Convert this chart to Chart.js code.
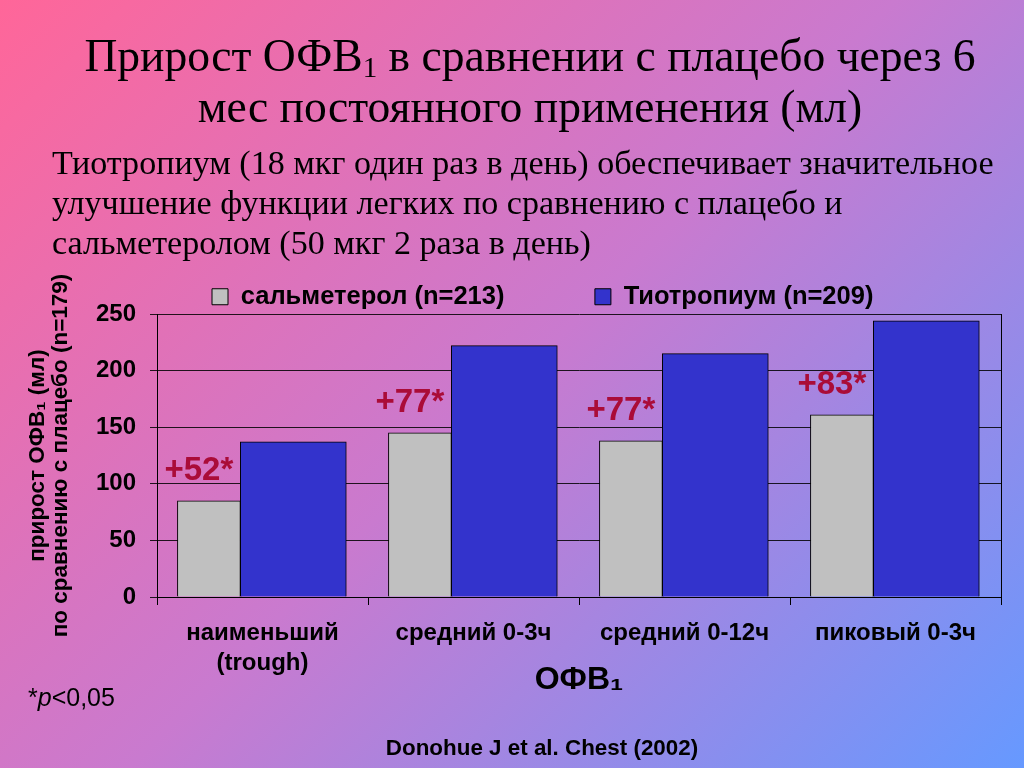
<!DOCTYPE html>
<html><head><meta charset="utf-8">
<script src="https://cdn.jsdelivr.net/npm/chart.js@4.4.0/dist/chart.umd.min.js"></script>
<style>
html,body{margin:0;padding:0;width:1024px;height:768px;overflow:hidden;}
body{background:linear-gradient(135deg,#ff6699 0%,#c97acf 50%,#6699ff 100%);position:relative;}
#c{position:absolute;left:0;top:0;}
.t{position:absolute;color:#000;white-space:nowrap;}
#title{left:0;width:1060px;top:30px;text-align:center;font-family:"Liberation Serif",serif;font-size:45.6px;line-height:51px;}
#title sub{font-size:29px;vertical-align:-6px;line-height:0;}
#sub{left:52px;top:143px;font-family:"Liberation Serif",serif;font-size:34.1px;line-height:40px;}
#pnote{left:28px;top:683px;font-family:"Liberation Sans",Arial,sans-serif;font-size:25px;line-height:28px;}
#src{left:0;width:1084px;top:735px;text-align:center;font-family:"Liberation Sans",Arial,sans-serif;font-weight:bold;font-size:22.4px;line-height:26px;}
</style></head>
<body>
<canvas id="c" width="1024" height="768" style="width:1024px;height:768px"></canvas>
<div class="t" id="title">Прирост ОФВ<sub>1</sub> в сравнении с плацебо через 6<br>мес постоянного применения (мл)</div>
<div class="t" id="sub">Тиотропиум (18 мкг один раз в день) обеспечивает значительное<br>улучшение функции легких по сравнению с плацебо и<br>сальметеролом (50 мкг 2 раза в день)</div>
<div class="t" id="pnote">*<i>p</i>&lt;0,05</div>
<div class="t" id="src">Donohue J et al. Chest (2002)</div>
<script>
const categories = [["наименьший", "(trough)"], "средний 0-3ч", "средний 0-12ч", "пиковый 0-3ч"];
const seriesNames = ["сальметерол (n=213)", "Тиотропиум (n=209)"];
const salmeterol = [85, 145, 138, 161];
const tiotropium = [137, 222, 215, 244];
const diffLabels = ["+52*", "+77*", "+77*", "+83*"];
const yTicks = [0, 50, 100, 150, 200, 250];
const yTitle = ["прирост ОФВ₁ (мл)", "по сравнению с плацебо (n=179)"];
const xTitle = "ОФВ₁";

const SANS = '"Liberation Sans", Arial, sans-serif';
const GRAY_POS = 0.246, BLUE_POS = 0.646;

const diffPlugin = {
  id: 'diffLabels',
  afterDatasetsDraw(chart) {
    const meta = chart.getDatasetMeta(0);
    const ctx = chart.ctx;
    ctx.save();
    ctx.font = 'bold 33px ' + SANS;
    ctx.fillStyle = '#aa0c38';
    ctx.textAlign = 'center';
    ctx.textBaseline = 'alphabetic';
    meta.data.forEach((el, i) => {
      ctx.fillText(diffLabels[i], el.x - 10, el.y - 21);
    });
    ctx.restore();
  }
};

new Chart(document.getElementById('c'), {
  type: 'bar',
  data: {
    labels: categories,
    datasets: [
      { label: seriesNames[0], xAxisID: 'xb', data: salmeterol.map((v, i) => ({x: i + GRAY_POS, y: v})),
        backgroundColor: '#c0c0c0', borderColor: '#000', borderWidth: 1, barThickness: 63, grouped: false },
      { label: seriesNames[1], xAxisID: 'xb', data: tiotropium.map((v, i) => ({x: i + BLUE_POS, y: v})),
        backgroundColor: '#3333cc', borderColor: '#000', borderWidth: 1, barThickness: 106, grouped: false }
    ]
  },
  options: {
    responsive: false,
    devicePixelRatio: 1,
    animation: false,
    layout: { padding: { left: 27, top: 229, right: 0, bottom: 0 } },
    plugins: {
      legend: {
        position: 'top', fullSize: false, align: 'start', maxHeight: 85,
        labels: {
          font: { family: SANS, size: 25.5, weight: 'bold' }, color: '#000',
          boxWidth: 16, boxHeight: 16, padding: 55,
          generateLabels: (chart) => {
            const items = Chart.defaults.plugins.legend.labels.generateLabels(chart);
            items[0].text = items[0].text + '     ';
            return items;
          }
        }
      },
      tooltip: { enabled: false }
    },
    scales: {
      xb: { type: 'linear', display: false, min: 0, max: 4, offset: false },
      x: {
        type: 'category', position: 'bottom', offset: true,
        grid: { offset: true, drawOnChartArea: false, tickLength: 8, color: '#000' },
        border: { color: '#000' },
        ticks: { font: { family: SANS, size: 24, weight: 'bold', lineHeight: 1.25 }, color: '#000', padding: 13, maxRotation: 0, autoSkip: false },
        title: { display: true, text: xTitle, font: { family: SANS, size: 32, weight: 'bold' }, color: '#000', padding: { top: 0, bottom: 69 } },
        afterFit: (s) => { s.height = 171; }
      },
      y: {
        position: 'left', min: 0, max: 250,
        afterBuildTicks: (s) => { s.ticks = yTicks.map(v => ({ value: v })); },
        ticks: { font: { family: SANS, size: 24, weight: 'bold' }, color: '#000', padding: 14 },
        grid: { color: 'rgba(0,0,0,0.85)', tickLength: 7, lineWidth: 1 },
        border: { color: '#000' },
        title: { display: true, text: yTitle, font: { family: SANS, size: 22.5, weight: 'bold', lineHeight: 1.0 }, color: '#000', padding: { top: 0, bottom: 0 } },
        afterFit: (s) => { s.width = 130; }
      },
      yR: {
        position: 'right', min: 0, max: 250,
        ticks: { display: false },
        grid: { drawOnChartArea: false, drawTicks: false },
        border: { display: true, color: '#000' },
        afterFit: (s) => { s.width = 23; }
      }
    }
  },
  plugins: [diffPlugin]
});
</script>
</body></html>
